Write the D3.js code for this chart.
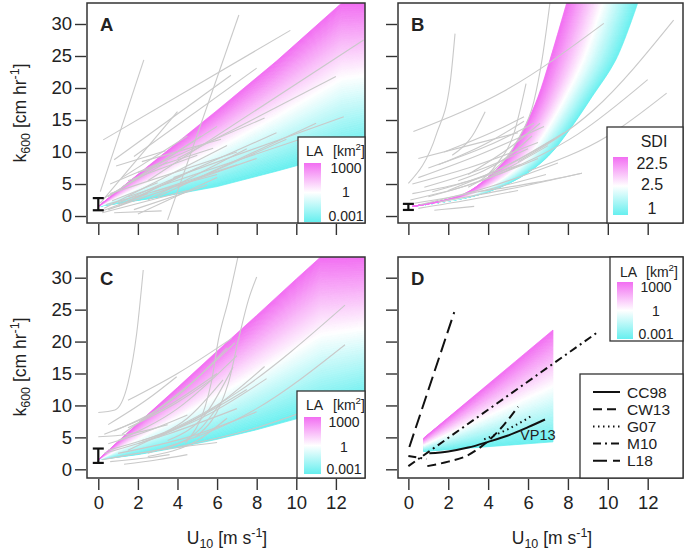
<!DOCTYPE html>
<html><head><meta charset="utf-8">
<script src="https://cdn.jsdelivr.net/npm/d3@7"></script>
<style>
body{margin:0;background:#fff}
svg{display:block}
text{font-family:"Liberation Sans",Arial,Helvetica,sans-serif;fill:#222}
</style></head>
<body><svg id="chart" width="685" height="553"></svg>
<script>
// ---------------- data ----------------
const xTicks = [0, 2, 4, 6, 8, 10, 12];
const yTicks = [0, 5, 10, 15, 20, 25, 30];
const laLabels = ["1000", "1", "0.001"];
const sdiLabels = ["22.5", "2.5", "1"];
const panelLetters = ["A", "B", "C", "D"];

// fan edges [U10, k600] (lower = cyan end, upper = magenta end)
const fanALower = [[0,1.5],[3,2.9],[6,4.6],[9,7.0],[12.3,9.8],[13.5,10.8]];
const fanAUpper = [[0,1.5],[3,9.0],[6,16.5],[9,24.2],[12.3,33.3],[13.5,33.3]];
const fanBLower = [[0.2,1.5],[3.5,3.3],[5.6,6.0],[7.0,9.3],[8.2,14],[9.2,18.6],[10.4,24.4],[11.5,33.3]];
const fanBUpper = [[0.2,1.5],[2.7,3.3],[4.0,6.1],[5.0,9.3],[5.85,14],[6.5,18.6],[7.1,24.4],[7.94,33.3]];
const fanCLower = [[0,1.5],[2,2.3],[4,3.4],[6,4.7],[8,6.2],[10,7.9],[11.25,9.0],[13.5,11.0]];
const fanCUpper = [[0,1.5],[2,7.2],[4,12.8],[6,18.5],[8,24.1],[10,29.8],[11.25,33.3],[13.5,33.3]];
const fanDLower = [[0.77,2.8],[7.25,4.3]];
const fanDUpper = [[0.77,4.9],[7.25,21.8]];

// error bars [lo, hi] at U10 = 0
const errA = [0.9, 2.8];
const errB = [0.95, 1.9];
const errC = [1.0, 3.25];

// grey lines of panel A (straight) [u1,k1,u2,k2]
const greyA = [
 [0.1,3.8,2.3,24.4],[3.5,-0.6,7.1,31.4],[0.25,11.9,9.7,29.0],[0.8,8.8,6.7,22.0],
 [1.8,9.3,8.0,23.1],[4.0,9.0,12.0,21.8],[2.5,5.5,13.4,27.5],[0.6,5.0,8.4,15.3],
 [0.1,2.0,4.0,16.3],[0.5,3.0,5.2,12.5],[1.2,4.5,6.0,14.0],[0.3,1.2,6.5,11.0],
 [1.0,2.0,9.0,13.0],[0.5,1.0,8.0,9.0],[1.5,3.0,10.5,12.3],[0.2,0.5,4.5,4.0],
 [0.8,0.5,3.2,0.8],[2.0,0.3,6.0,6.0],[1.0,1.5,5.0,7.5],[2.5,2.5,7.5,10.5],
 [0.3,2.8,3.5,8.5],[1.2,6.0,4.5,12.5],[3.0,3.0,11.0,14.5],[0.6,3.5,7.0,10.0],
 [3.8,6.0,12.4,15.5],[1.8,1.0,5.5,4.8],[0.9,7.8,3.4,10.2],[2.2,8.5,6.2,12.0],
 [0.4,1.8,6.0,6.5],[4.0,4.5,9.5,12.0],[1.5,5.5,5.0,9.5],[2.8,3.8,7.0,8.0],
 [0.2,0.8,2.5,3.5],[1.4,2.2,4.2,6.2],[2.0,6.8,5.8,10.6],[0.7,2.4,3.0,5.2]
];
// grey curves of panel B
const greyB = [
 [[0,5.1],[1.42,12.9],[2.09,20.7],[2.34,28.5]],
 [[3.0,4.5],[4.4,8.0],[5.3,13],[5.9,20.7]],
 [[4.0,6.5],[5.5,12],[6.3,18],[6.7,24.4],[7.1,33.3]],
 [[0.25,13.2],[4.9,19.7],[9.8,30.1]],
 [[5.5,8.5],[9.3,16.6],[13.3,30.6]],
 [[4.5,6.5],[8.5,12.8],[12.0,21.3]],
 [[6.0,7.0],[10,12.5],[12.95,19.2]],
 [[3.5,3.8],[6.5,5.3],[8.7,6.7]],
 [[0.2,5.0],[3,7.5],[6.5,11.5]],
 [[0.5,6.0],[3.5,9.5],[6.8,14.0]],
 [[1,7.5],[4,11],[6.3,14.5]],
 [[1.5,8.0],[4,11.5],[5.8,14.8]],
 [[2.2,9.5],[3.2,12.5],[3.85,16.3]],
 [[0.1,2.5],[3,4.8],[6.5,9.0]],
 [[0.3,2.0],[3.5,3.8],[6.9,6.5]],
 [[0.5,1.2],[3,2.5],[5.5,4.0]],
 [[1,3],[4,6],[7,11]],
 [[2,4],[5,8],[7.8,13]],
 [[0.6,1.8],[4,4.5],[7.5,8.3]],
 [[1.5,2.2],[5,4.2],[8.7,6.7]],
 [[1.3,0.9],[2.3,1.2],[3.3,1.5]],
 [[3.0,6.5],[5.0,10.5],[6.6,14.5]],
 [[2.5,5.5],[5,9.3],[6.2,12.5]],
 [[0.8,4.5],[3.8,7.5],[6.0,10.5]],
 [[1.2,3.8],[4.5,7.2],[7.3,12.0]],
 [[0.2,3.5],[2.5,5.0],[5.6,8.0]],
 [[1.8,10.0],[4.5,13.5],[5.8,15.5]],
 [[0.5,9.0],[3.0,11.0],[5.5,13.0]]
];
// grey curves of panel C
const greyC = [
 [[0,8.9],[0.84,9.3],[1.5,13.5],[1.94,21.3],[2.27,31.2]],
 [[4.4,4.1],[5.7,13.5],[6.06,20.2],[6.57,26.5],[7.07,33.5]],
 [[4.9,5.0],[6.57,13.5],[7.07,20.2],[7.58,26.5],[8.0,30.1]],
 [[1.5,3.0],[7,12],[12.46,25.7]],
 [[2.5,2.5],[8,9.5],[12.46,19.5]],
 [[1.5,10.8],[4,15],[6.74,20.5]],
 [[0.5,7],[2.5,11],[3.96,14.5]],
 [[3,5],[6,10],[8.4,16.1]],
 [[2,4],[5.5,8.5],[8.5,14.2]],
 [[0.3,5.5],[3,9],[6,15]],
 [[0.8,6],[4,11.5],[6.5,19]],
 [[1,4.5],[4,9.5],[7,17.8]],
 [[0.5,3],[4,6.5],[7.5,12.5]],
 [[1,2.5],[4.5,5],[8,9]],
 [[0.2,1.5],[3,3],[6,4.2]],
 [[1.3,0.8],[3,1.5],[4.5,2.3]],
 [[0.6,1.2],[2.5,1.8],[3.6,2.3]],
 [[2.5,2],[5,4.5],[6.5,8]],
 [[3,3],[5.2,6.5],[6.2,10.5]],
 [[0.5,4],[2.5,6],[4.5,8.5]],
 [[1.5,6.5],[4,10.5],[5.7,14]],
 [[2.2,4.5],[4.5,8],[6.3,14]],
 [[3.5,4.5],[5.5,9],[6.8,16]],
 [[0,5.1],[1.5,5.5],[3.5,7]],
 [[0.3,2.5],[3.5,5.5],[7,9.5]],
 [[4,3.5],[8,6.5],[12.5,11.5]],
 [[1.2,5.5],[4.5,13],[6.9,19.8]]
];

// panel D model lines
const lineCC98 = [[1.05,2.5],[2,2.8],[3,3.4],[4,4.3],[5,5.3],[6,6.6],[6.85,7.8]];
const lineCW13 = [[0.95,0.5],[2,1.2],[2.85,2.0],[3.5,3.2],[4.15,4.85],[4.8,7.0],[5.5,9.8]];
const lineG07  = [[3.8,4.7],[5,6.3],[6.15,8.3]];
const lineM10  = [[0,0.5],[9.55,21.6]];
const lineM10b = [[0,2.1],[0.9,1.6]];
const lineL18  = [[0.05,3.5],[2.3,24.6]];
const modelNames = ["CC98","CW13","G07","M10","L18"];

// ---------------- drawing ----------------
const svg = d3.select("#chart");
const FONT = '"Liberation Sans",Arial,Helvetica,sans-serif';
const cyan = "#66efef", white = "#ffffff", magenta = "#f26ef2";
function fanColor(t){
  return t < 0.5 ? d3.interpolateRgb(cyan, white)(t/0.5) : d3.interpolateRgb(white, magenta)((t-0.5)/0.5);
}
const defs = svg.append("defs");
const grad = defs.append("linearGradient").attr("id","cbar").attr("x1",0).attr("y1",1).attr("x2",0).attr("y2",0);
grad.append("stop").attr("offset","0%").attr("stop-color",cyan);
grad.append("stop").attr("offset","50%").attr("stop-color",white);
grad.append("stop").attr("offset","100%").attr("stop-color",magenta);

const panels = [
  {id:"A", x0:87,  x1:365, y0:3,   y1:223, xd:[-0.57,13.47], yd:[-1.09,33.28], xlab:false, ylab:true},
  {id:"B", x0:398, x1:683, y0:3,   y1:223, xd:[-0.52,13.77], yd:[-1.09,33.28], xlab:false, ylab:false},
  {id:"C", x0:87,  x1:365, y0:257, y1:478, xd:[-0.57,13.47], yd:[-1.36,33.24], xlab:true,  ylab:true},
  {id:"D", x0:398, x1:683, y0:257, y1:478, xd:[-0.52,13.77], yd:[-1.36,33.24], xlab:true,  ylab:false}
];

panels.forEach((p,i)=>{
  p.x = d3.scaleLinear().domain(p.xd).range([p.x0,p.x1]);
  p.y = d3.scaleLinear().domain(p.yd).range([p.y1,p.y0]);
  defs.append("clipPath").attr("id","clip"+p.id).append("rect")
    .attr("x",p.x0).attr("y",p.y0).attr("width",p.x1-p.x0).attr("height",p.y1-p.y0);
  p.g = svg.append("g");
  p.plot = p.g.append("g").attr("clip-path","url(#clip"+p.id+")");
});

function drawFan(p, lower, upper, n, curve){
  const ln = d3.line().x(d=>p.x(d[0])).y(d=>p.y(d[1])).curve(curve);
  const lerp = t => lower.map((q,j)=>[q[0]+(upper[j][0]-q[0])*t, q[1]+(upper[j][1]-q[1])*t]);
  for(let i=0;i<n;i++){
    const t0=i/n, t1=(i+1)/n, c=fanColor((t0+t1)/2);
    const a=lerp(t0), b=lerp(t1).reverse();
    const d = ln(a) + "L" + ln(b).slice(1) + "Z";
    p.plot.append("path").attr("d",d).attr("fill",c).attr("stroke",c).attr("stroke-width",0.8);
  }
}
drawFan(panels[0], fanALower, fanAUpper, 70, d3.curveLinear);
drawFan(panels[1], fanBLower, fanBUpper, 70, d3.curveCatmullRom);
drawFan(panels[2], fanCLower, fanCUpper, 70, d3.curveLinear);
drawFan(panels[3], fanDLower, fanDUpper, 70, d3.curveLinear);

const greyCol = "#c9c9c9";
// panel A straight lines
panels[0].plot.selectAll("line.g").data(greyA).enter().append("line")
  .attr("x1",d=>panels[0].x(d[0])).attr("y1",d=>panels[0].y(d[1]))
  .attr("x2",d=>panels[0].x(d[2])).attr("y2",d=>panels[0].y(d[3]))
  .attr("stroke",greyCol).attr("stroke-width",1.1);
[[1,greyB],[2,greyC]].forEach(([pi,data])=>{
  const p=panels[pi];
  const ln=d3.line().x(d=>p.x(d[0])).y(d=>p.y(d[1])).curve(d3.curveMonotoneX);
  p.plot.selectAll("path.g").data(data).enter().append("path")
    .attr("d",ln).attr("fill","none").attr("stroke",greyCol).attr("stroke-width",1.1);
});

// panel D model lines
const pD = panels[3];
const lnD = d3.line().x(d=>pD.x(d[0])).y(d=>pD.y(d[1])).curve(d3.curveMonotoneX);
const modelStyles = [
  {data:[lineCC98], dash:null},
  {data:[lineCW13], dash:"9,5"},
  {data:[lineG07], dash:"1.5,3.5"},
  {data:[lineM10,lineM10b], dash:"8,4,2,4"},
  {data:[lineL18], dash:"14,6"}
];
modelStyles.forEach(s=>{
  s.data.forEach(arr=>{
    pD.plot.append("path").attr("d",lnD(arr)).attr("fill","none").attr("stroke","#111")
      .attr("stroke-width",2).attr("stroke-dasharray",s.dash);
  });
});
pD.g.append("text").attr("x",pD.x(5.6)).attr("y",pD.y(4.6)).attr("font-size",14.5).attr("fill","#2c3a3a").text("VP13");

// error bars
[[0,errA],[1,errB],[2,errC]].forEach(([pi,e])=>{
  const p=panels[pi], cx=p.x(0);
  const g=p.g.append("g").attr("stroke","#111").attr("stroke-width",2.2);
  g.append("line").attr("x1",cx).attr("x2",cx).attr("y1",p.y(e[0])).attr("y2",p.y(e[1]));
  g.append("line").attr("x1",cx-5.5).attr("x2",cx+5.5).attr("y1",p.y(e[0])).attr("y2",p.y(e[0]));
  g.append("line").attr("x1",cx-5.5).attr("x2",cx+5.5).attr("y1",p.y(e[1])).attr("y2",p.y(e[1]));
});

// frames & axes
panels.forEach((p,i)=>{
  const ax = d3.axisBottom(p.x).tickValues(xTicks).tickSize(11).tickPadding(6).tickSizeOuter(0);
  if(!p.xlab) ax.tickFormat("");
  const gx = p.g.append("g").attr("transform",`translate(0,${p.y1+1})`).call(ax);
  const ay = d3.axisLeft(p.y).tickValues(yTicks).tickSize(11).tickPadding(3).tickSizeOuter(0);
  if(!p.ylab) ay.tickFormat("");
  const gy = p.g.append("g").attr("transform",`translate(${p.x0-1},0)`).call(ay);
  [gx,gy].forEach(g=>{
    g.select(".domain").remove();
    g.selectAll(".tick line").attr("stroke","#333").attr("stroke-width",1.4);
    g.selectAll(".tick text").attr("font-family",FONT).attr("font-size",18.5).attr("fill","#222");
  });
  p.g.append("rect").attr("x",p.x0).attr("y",p.y0).attr("width",p.x1-p.x0).attr("height",p.y1-p.y0)
    .attr("fill","none").attr("stroke","#333").attr("stroke-width",1.5);
  p.g.append("text").attr("x",p.x0+13).attr("y",p.y0+28).attr("font-size",18.5)
    .attr("font-weight","bold").attr("fill","#111").text(panelLetters[i]);
});

// axis titles
function yTitle(cx, cy){
  const t = svg.append("text").attr("transform",`translate(${cx},${cy}) rotate(-90)`)
    .attr("text-anchor","middle").attr("font-size",17.5);
  t.append("tspan").text("k");
  t.append("tspan").attr("font-size",12.5).attr("dy",4).text("600");
  t.append("tspan").attr("dy",-4).text(" [cm hr");
  t.append("tspan").attr("font-size",12.5).attr("dy",-7).text("-1");
  t.append("tspan").attr("dy",7).text("]");
}
yTitle(26, 113);
yTitle(26, 367);
function xTitle(cx, cy){
  const t = svg.append("text").attr("x",cx).attr("y",cy).attr("text-anchor","middle").attr("font-size",17.5);
  t.append("tspan").text("U");
  t.append("tspan").attr("font-size",12.5).attr("dy",4).text("10");
  t.append("tspan").attr("dy",-4).text(" [m s");
  t.append("tspan").attr("font-size",12.5).attr("dy",-7).text("-1");
  t.append("tspan").attr("dy",7).text("]");
}
xTitle(227, 544);
xTitle(552, 544);

// color legends
function colorLegend(o){
  svg.append("rect").attr("x",o.x).attr("y",o.y).attr("width",o.w).attr("height",o.h)
    .attr("fill","#fff").attr("stroke","#333").attr("stroke-width",1.3);
  if(o.title==="LA"){
    svg.append("text").attr("x",o.tx).attr("y",o.ty).attr("font-size",o.fs).text("LA");
    const t=svg.append("text").attr("x",o.ux).attr("y",o.ty).attr("font-size",o.fs);
    t.append("tspan").text("[km");
    t.append("tspan").attr("font-size",o.fs*0.7).attr("dy",-6).text("2");
    t.append("tspan").attr("dy",6).text("]");
  } else {
    svg.append("text").attr("x",o.tx).attr("y",o.ty).attr("text-anchor","middle").attr("font-size",o.fs).text(o.title);
  }
  svg.append("rect").attr("x",o.bx).attr("y",o.by).attr("width",o.bw).attr("height",o.bh).attr("fill","url(#cbar)");
  o.labels.forEach((l,i)=>{
    svg.append("text").attr("x",o.lx).attr("y",o.ly[i]).attr("text-anchor","middle").attr("font-size",o.fs).text(l);
  });
}
colorLegend({title:"LA",x:298,y:137,w:67,h:86,tx:306,ux:333,ty:156,fs:14,bx:304,by:163,bw:17,bh:59,lx:346,ly:[173,197,221],labels:laLabels});
colorLegend({title:"SDI",x:607,y:127,w:76,h:96,tx:654,ty:147,fs:16,bx:613,by:157,bw:15,bh:58,lx:652,ly:[169,190,214],labels:sdiLabels});
colorLegend({title:"LA",x:297,y:391,w:68,h:87,tx:306,ux:333,ty:410,fs:14,bx:304,by:417,bw:17,bh:57,lx:344,ly:[427,452,474],labels:laLabels});
colorLegend({title:"LA",x:610,y:257,w:73,h:84,tx:620,ux:646,ty:277,fs:14,bx:617,by:282,bw:16,bh:57,lx:656,ly:[292,316,339],labels:laLabels});

// line-type legend in D
svg.append("rect").attr("x",580).attr("y",374).attr("width",103).attr("height",104)
  .attr("fill","#fff").attr("stroke","#333").attr("stroke-width",1.3);
modelNames.forEach((nm,i)=>{
  const yy = 392 + i*17.2;
  svg.append("line").attr("x1",593).attr("x2",620).attr("y1",yy).attr("y2",yy)
    .attr("stroke","#111").attr("stroke-width",2).attr("stroke-dasharray",modelStyles[i].dash);
  svg.append("text").attr("x",627).attr("y",yy+5.5).attr("font-size",15.5).text(nm);
});
</script></body></html>
